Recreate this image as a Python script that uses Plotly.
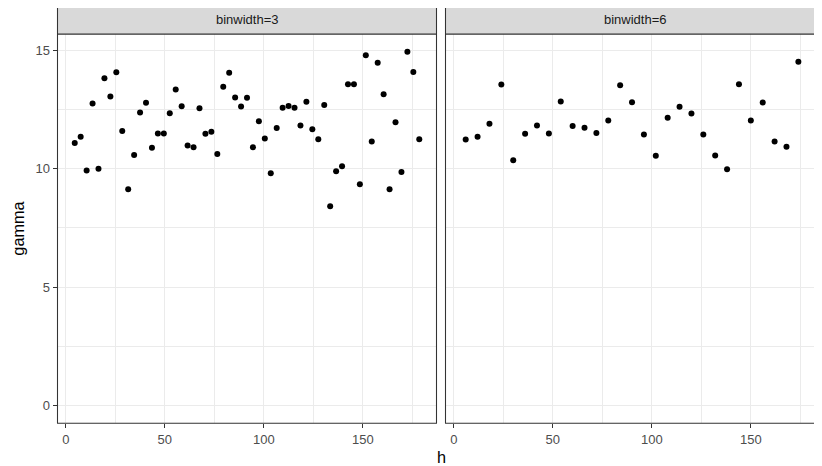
import plotly.graph_objects as go

# binwidth=3 panel
h3 = [4.5 + 3 * i for i in range(59)]
gamma3 = [11.09, 11.35, 9.93, 12.76, 10.0, 13.82, 13.05, 14.07, 11.59, 9.13,
          10.58, 12.38, 12.79, 10.89, 11.49, 11.49, 12.34, 13.35, 12.64, 10.98,
          10.91, 12.55, 11.48, 11.56, 10.62, 13.46, 14.05, 13.01, 12.63, 13.0,
          10.91, 12.01, 11.28, 9.81, 11.72, 12.58, 12.65, 12.58, 11.83, 12.83,
          11.67, 11.25, 12.69, 8.42, 9.89, 10.10, 13.57, 13.57, 9.34, 14.79,
          11.15, 14.48, 13.15, 9.13, 11.96, 9.86, 14.94, 14.08, 11.25]

# binwidth=6 panel
h6 = [6 * (i + 1) for i in range(29)]
gamma6 = [11.24, 11.35, 11.90, 13.56, 10.36, 11.48, 11.83, 11.49, 12.84, 11.80,
          11.73, 11.51, 12.04, 13.53, 12.81, 11.45, 10.55, 12.15, 12.62, 12.33,
          11.45, 10.56, 9.98, 13.57, 12.04, 12.80, 11.15, 10.93, 14.52]

strip_labels = ["binwidth=3", "binwidth=6"]
x_ticks = [0, 50, 100, 150]
y_ticks = [0, 5, 10, 15]

# page has an 8px body margin: figure is drawn at page offset (8, 8)
OFF = 8
W, H = 822 - OFF, 466 - OFF
def px(x):
    return (x - OFF) / W
def py(y):
    return 1 - (y - OFF) / H

L1, R1 = 57.5, 436.5
L2, R2 = 445.5, 824.5
TOP, BOT = 34.0, 423.3
STRIP_TOP = 5.7
scale = (R1 - L1) / (187.2 + 4.2)
xr1 = [-4.2, 187.2]
xr2 = [-4.2, -4.2 + (822 - L2) / scale]
yr = [-0.75, 15.69]

fig = go.Figure()
fig.add_trace(go.Scatter(x=h3, y=gamma3, mode="markers", xaxis="x", yaxis="y",
                         marker=dict(color="black", size=6), showlegend=False))
fig.add_trace(go.Scatter(x=h6, y=gamma6, mode="markers", xaxis="x2", yaxis="y2",
                         marker=dict(color="black", size=6), showlegend=False))

FONT = "Liberation Sans, Arial, sans-serif"
tickfont = dict(family=FONT, size=13, color="#4D4D4D")
common_x = dict(tickmode="array", tickvals=x_ticks, showgrid=True, gridcolor="#EBEBEB",
                gridwidth=1.4, zeroline=False, ticks="outside", ticklen=4,
                tickcolor="#333333", tickwidth=1.07, tickfont=tickfont,
                minor=dict(tickmode="array", tickvals=[25, 75, 125, 175], showgrid=True,
                           gridcolor="#EBEBEB", gridwidth=0.7, ticks=""),
                showline=False)
common_y = dict(range=yr, tickmode="array", tickvals=y_ticks, showgrid=True,
                gridcolor="#EBEBEB", gridwidth=1.4, zeroline=False, ticklen=4,
                tickcolor="#333333", tickwidth=1.07, tickfont=tickfont,
                minor=dict(tickmode="array", tickvals=[2.5, 7.5, 12.5], showgrid=True,
                           gridcolor="#EBEBEB", gridwidth=0.7, ticks=""),
                showline=False)

fig.update_layout(
    width=W, height=H, margin=dict(l=0, r=0, t=0, b=0),
    paper_bgcolor="white", plot_bgcolor="white",
    xaxis=dict(domain=[px(L1), px(R1)], range=xr1, anchor="y", **common_x),
    xaxis2=dict(domain=[px(L2), 1.0], range=xr2, anchor="y2", **common_x),
    yaxis=dict(domain=[py(BOT), py(TOP)], anchor="x", ticks="outside", **common_y),
    yaxis2=dict(domain=[py(BOT), py(TOP)], anchor="x2", showticklabels=False,
                ticks="", **common_y),
    font=dict(family=FONT),
)

shapes = []
for (l, r) in [(L1, R1), (L2, R2)]:
    shapes.append(dict(type="rect", xref="paper", yref="paper", x0=px(l), x1=px(r),
                       y0=py(BOT), y1=py(TOP), line=dict(color="#333333", width=1.07),
                       fillcolor="rgba(0,0,0,0)", layer="above"))
    shapes.append(dict(type="rect", xref="paper", yref="paper", x0=px(l), x1=px(r),
                       y0=py(TOP), y1=py(STRIP_TOP), line=dict(color="#333333", width=1.07),
                       fillcolor="#D9D9D9", layer="above"))
fig.update_layout(shapes=shapes)

annotations = []
for lab, (l, r) in zip(strip_labels, [(L1, R1), (L2, R2)]):
    annotations.append(dict(text=lab, xref="paper", yref="paper", x=px((l + r) / 2),
                            y=py((TOP + STRIP_TOP) / 2), showarrow=False,
                            xanchor="center", yanchor="middle",
                            font=dict(size=13, color="#1A1A1A", family=FONT)))
annotations.append(dict(text="h", xref="paper", yref="paper", x=px((L1 + R2) / 2),
                        y=py(457), showarrow=False, xanchor="center", yanchor="middle",
                        font=dict(size=16.3, color="black", family=FONT)))
annotations.append(dict(text="gamma", xref="paper", yref="paper", x=px(18),
                        y=py((TOP + BOT) / 2), showarrow=False, textangle=-90,
                        xanchor="center", yanchor="middle",
                        font=dict(size=16.3, color="black", family=FONT)))
fig.update_layout(annotations=annotations)

fig.write_html("out.html")
